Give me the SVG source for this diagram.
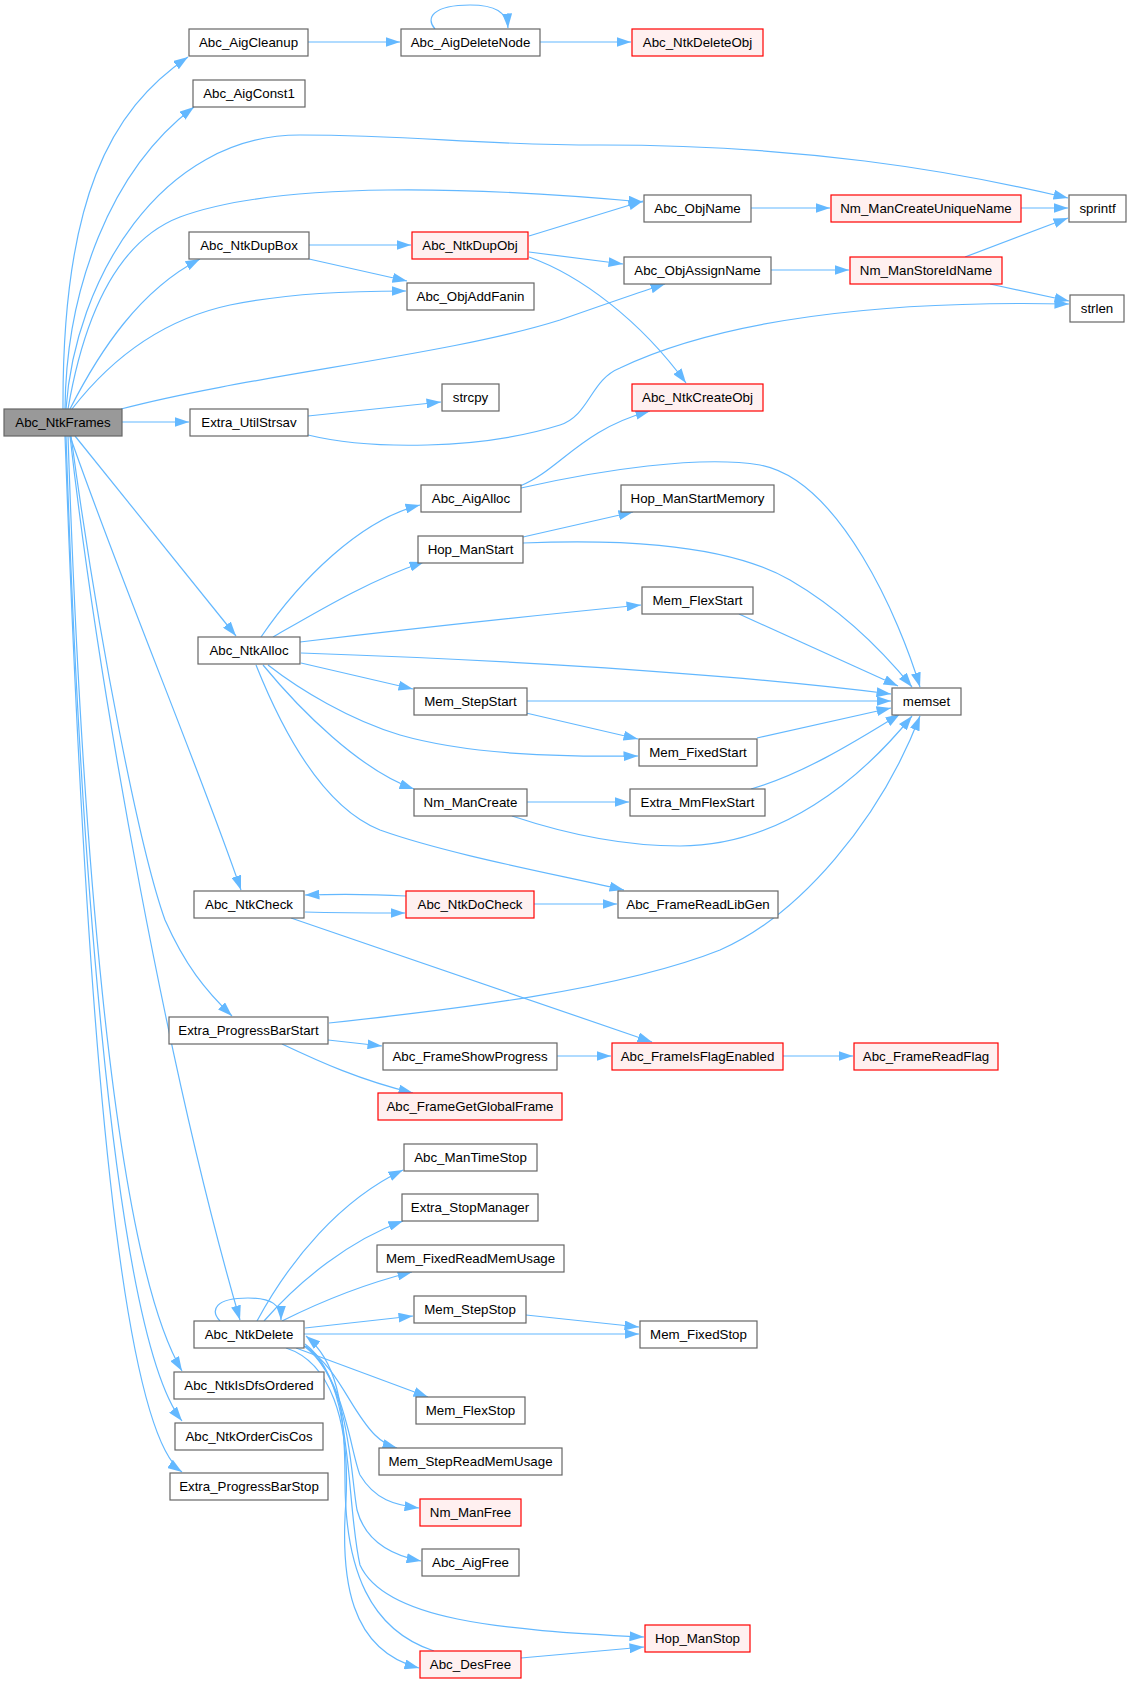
<svg xmlns="http://www.w3.org/2000/svg" width="1132" height="1683" viewBox="0 0 1132 1683">
<style>
text{font-family:"Liberation Sans",Arial,sans-serif;font-size:13.3px;text-anchor:middle;fill:#000}
.n rect{fill:#fff;stroke:#666;stroke-width:1.2}
.r rect{fill:#fff0f0;stroke:#f00;stroke-width:1.2}
.root rect{fill:#999;stroke:#666;stroke-width:1.2}
#edges path{fill:none;stroke:#63b8ff;stroke-width:1.2;marker-end:url(#a)}
</style>
<defs>
<marker id="a" markerUnits="userSpaceOnUse" markerWidth="15" markerHeight="10" refX="14.5" refY="5" orient="auto">
<path d="M0,0 L14.5,5 L0,10 z" fill="#63b8ff"/>
</marker>
</defs>
<rect width="1132" height="1683" fill="#fff"/>
<g id="edges">
<path d="M63,409 C62,200 110,110 188,57"/>
<path d="M65,409 C66,290 110,170 194,107"/>
<path d="M66,409 C75,280 160,135 300,135 C420,135 470,145 600,145 C800,145 950,170 1068,198"/>
<path d="M68,409 C85,310 120,240 180,217 C280,180 480,187 643,202"/>
<path d="M70,409 C100,350 140,290 200,259"/>
<path d="M72,409 C110,360 160,320 230,305 C290,293 350,291 406,291"/>
<path d="M121,409 C250,375 450,355 560,320 C600,306 640,292 665,284"/>
<path d="M122,422 L189,422"/>
<path d="M75,436 L236,636"/>
<path d="M70,436 C120,580 200,770 241,890"/>
<path d="M71,436 C100,650 140,850 165,920 C185,965 205,990 232,1016"/>
<path d="M70,436 C100,700 170,1080 240,1320"/>
<path d="M68,436 C80,800 110,1250 182,1371"/>
<path d="M66,436 C78,800 110,1330 182,1421"/>
<path d="M65,436 C78,800 105,1420 182,1472"/>
<path d="M308,42 L400,42"/>
<path d="M435,29 C425,18 433,5 470,5 C495,5 507,12 508,28"/>
<path d="M540,42 L631,42"/>
<path d="M309,245 L411,245"/>
<path d="M309,259 L407,281"/>
<path d="M529,236 L643,201"/>
<path d="M529,252 L623,264"/>
<path d="M529,257 C580,275 640,320 686,383"/>
<path d="M308,416 L441,402"/>
<path d="M308,435 C370,450 480,450 560,425 C590,415 590,380 620,368 C720,320 880,300 1069,304"/>
<path d="M751,208 L830,208"/>
<path d="M1021,208 L1068,208"/>
<path d="M771,270 L849,270"/>
<path d="M965,257 L1068,218"/>
<path d="M990,284 L1069,301"/>
<path d="M261,637 C300,580 360,520 420,505"/>
<path d="M273,637 C320,610 370,580 424,562"/>
<path d="M300,642 C400,630 550,614 641,605"/>
<path d="M301,653 C450,658 700,670 891,694"/>
<path d="M301,663 L413,689"/>
<path d="M268,665 C300,690 350,720 400,735 C470,755 560,757 638,756"/>
<path d="M263,665 C300,710 360,770 414,789"/>
<path d="M256,665 C290,750 330,810 380,830 C450,855 560,875 624,890"/>
<path d="M520,486 C560,470 580,430 650,411"/>
<path d="M521,488 C600,470 700,455 760,465 C840,480 900,620 920,687"/>
<path d="M523,537 L633,512"/>
<path d="M523,543 C600,540 720,540 790,580 C850,615 890,660 912,687"/>
<path d="M739,614 L898,686"/>
<path d="M527,701 L891,701"/>
<path d="M526,713 L638,739"/>
<path d="M757,738 L891,708"/>
<path d="M527,802 L629,802"/>
<path d="M512,816 C560,832 620,846 680,846 C780,846 860,780 912,716"/>
<path d="M751,789 C800,775 850,745 900,714"/>
<path d="M406,896 C370,894 340,894 305,895"/>
<path d="M305,912 C340,913 370,913 405,913"/>
<path d="M534,904 L617,904"/>
<path d="M291,918 L652,1042"/>
<path d="M329,1023 C450,1010 620,990 720,950 C800,915 880,820 920,716"/>
<path d="M328,1040 L382,1046"/>
<path d="M282,1044 C320,1062 360,1080 413,1093"/>
<path d="M557,1056 L611,1056"/>
<path d="M783,1056 L853,1056"/>
<path d="M220,1321 C210,1310 215,1298 248,1298 C272,1298 281,1305 281,1320"/>
<path d="M257,1321 C290,1260 340,1200 403,1170"/>
<path d="M264,1321 C300,1280 350,1240 403,1221"/>
<path d="M282,1321 C320,1302 360,1285 412,1272"/>
<path d="M305,1328 L413,1316"/>
<path d="M304,1334 L639,1334"/>
<path d="M296,1348 L428,1397"/>
<path d="M305,1346 C340,1370 350,1410 375,1435 C382,1442 390,1446 397,1448"/>
<path d="M306,1346 C345,1380 350,1450 360,1475 C375,1500 395,1505 419,1508"/>
<path d="M304,1346 C350,1380 350,1470 357,1510 C365,1540 390,1555 421,1561"/>
<path d="M305,1344 C355,1380 345,1500 360,1565 C385,1620 500,1630 644,1637"/>
<path d="M286,1348 C330,1362 350,1420 346,1500 C340,1580 350,1650 419,1668"/>
<path d="M434,1651 C370,1630 345,1570 345,1480 C345,1400 335,1360 306,1336"/>
<path d="M521,1658 L644,1647"/>
<path d="M526,1315 L639,1327"/>
</g>
<g id="Abc_NtkFrames" class="root"><rect x="4" y="409" width="118" height="27"/><text x="63" y="427">Abc_NtkFrames</text></g>
<g id="Abc_AigCleanup" class="n"><rect x="189" y="29" width="119" height="27"/><text x="248.5" y="47">Abc_AigCleanup</text></g>
<g id="Abc_AigDeleteNode" class="n"><rect x="401" y="29" width="139" height="27"/><text x="470.5" y="47">Abc_AigDeleteNode</text></g>
<g id="Abc_NtkDeleteObj" class="r"><rect x="632" y="29" width="131" height="27"/><text x="697.5" y="47">Abc_NtkDeleteObj</text></g>
<g id="Abc_AigConst1" class="n"><rect x="193" y="80" width="112" height="27"/><text x="249" y="98">Abc_AigConst1</text></g>
<g id="Abc_NtkDupBox" class="n"><rect x="189" y="232" width="120" height="27"/><text x="249" y="250">Abc_NtkDupBox</text></g>
<g id="Abc_NtkDupObj" class="r"><rect x="412" y="232" width="116" height="27"/><text x="470" y="250">Abc_NtkDupObj</text></g>
<g id="Abc_ObjAddFanin" class="n"><rect x="407" y="283" width="127" height="27"/><text x="470.5" y="301">Abc_ObjAddFanin</text></g>
<g id="strcpy" class="n"><rect x="442" y="384" width="57" height="27"/><text x="470.5" y="402">strcpy</text></g>
<g id="Extra_UtilStrsav" class="n"><rect x="190" y="409" width="118" height="27"/><text x="249" y="427">Extra_UtilStrsav</text></g>
<g id="Abc_ObjName" class="n"><rect x="644" y="195" width="107" height="27"/><text x="697.5" y="213">Abc_ObjName</text></g>
<g id="Nm_ManCreateUniqueName" class="r"><rect x="831" y="195" width="190" height="27"/><text x="926" y="213">Nm_ManCreateUniqueName</text></g>
<g id="sprintf" class="n"><rect x="1069" y="195" width="57" height="27"/><text x="1097.5" y="213">sprintf</text></g>
<g id="Abc_ObjAssignName" class="n"><rect x="624" y="257" width="147" height="27"/><text x="697.5" y="275">Abc_ObjAssignName</text></g>
<g id="Nm_ManStoreIdName" class="r"><rect x="850" y="257" width="152" height="27"/><text x="926" y="275">Nm_ManStoreIdName</text></g>
<g id="strlen" class="n"><rect x="1070" y="295" width="54" height="27"/><text x="1097" y="313">strlen</text></g>
<g id="Abc_NtkCreateObj" class="r"><rect x="632" y="384" width="131" height="27"/><text x="697.5" y="402">Abc_NtkCreateObj</text></g>
<g id="Abc_AigAlloc" class="n"><rect x="421" y="485" width="100" height="27"/><text x="471" y="503">Abc_AigAlloc</text></g>
<g id="Hop_ManStart" class="n"><rect x="418" y="536" width="105" height="27"/><text x="470.5" y="554">Hop_ManStart</text></g>
<g id="Abc_NtkAlloc" class="n"><rect x="198" y="637" width="102" height="27"/><text x="249" y="655">Abc_NtkAlloc</text></g>
<g id="Mem_StepStart" class="n"><rect x="414" y="688" width="113" height="27"/><text x="470.5" y="706">Mem_StepStart</text></g>
<g id="Nm_ManCreate" class="n"><rect x="414" y="789" width="113" height="27"/><text x="470.5" y="807">Nm_ManCreate</text></g>
<g id="Hop_ManStartMemory" class="n"><rect x="621" y="485" width="153" height="27"/><text x="697.5" y="503">Hop_ManStartMemory</text></g>
<g id="Mem_FlexStart" class="n"><rect x="642" y="587" width="111" height="27"/><text x="697.5" y="605">Mem_FlexStart</text></g>
<g id="memset" class="n"><rect x="892" y="688" width="69" height="27"/><text x="926.5" y="706">memset</text></g>
<g id="Mem_FixedStart" class="n"><rect x="639" y="739" width="118" height="27"/><text x="698" y="757">Mem_FixedStart</text></g>
<g id="Extra_MmFlexStart" class="n"><rect x="630" y="789" width="135" height="27"/><text x="697.5" y="807">Extra_MmFlexStart</text></g>
<g id="Abc_NtkCheck" class="n"><rect x="194" y="891" width="110" height="27"/><text x="249" y="909">Abc_NtkCheck</text></g>
<g id="Abc_NtkDoCheck" class="r"><rect x="406" y="891" width="128" height="27"/><text x="470" y="909">Abc_NtkDoCheck</text></g>
<g id="Abc_FrameReadLibGen" class="n"><rect x="618" y="891" width="160" height="27"/><text x="698" y="909">Abc_FrameReadLibGen</text></g>
<g id="Extra_ProgressBarStart" class="n"><rect x="169" y="1017" width="159" height="27"/><text x="248.5" y="1035">Extra_ProgressBarStart</text></g>
<g id="Abc_FrameShowProgress" class="n"><rect x="383" y="1043" width="174" height="27"/><text x="470" y="1061">Abc_FrameShowProgress</text></g>
<g id="Abc_FrameIsFlagEnabled" class="r"><rect x="612" y="1043" width="171" height="27"/><text x="697.5" y="1061">Abc_FrameIsFlagEnabled</text></g>
<g id="Abc_FrameReadFlag" class="r"><rect x="854" y="1043" width="144" height="27"/><text x="926" y="1061">Abc_FrameReadFlag</text></g>
<g id="Abc_FrameGetGlobalFrame" class="r"><rect x="378" y="1093" width="184" height="27"/><text x="470" y="1111">Abc_FrameGetGlobalFrame</text></g>
<g id="Abc_ManTimeStop" class="n"><rect x="404" y="1144" width="133" height="27"/><text x="470.5" y="1162">Abc_ManTimeStop</text></g>
<g id="Extra_StopManager" class="n"><rect x="402" y="1194" width="136" height="27"/><text x="470" y="1212">Extra_StopManager</text></g>
<g id="Mem_FixedReadMemUsage" class="n"><rect x="377" y="1245" width="187" height="27"/><text x="470.5" y="1263">Mem_FixedReadMemUsage</text></g>
<g id="Abc_NtkDelete" class="n"><rect x="194" y="1321" width="110" height="27"/><text x="249" y="1339">Abc_NtkDelete</text></g>
<g id="Mem_StepStop" class="n"><rect x="414" y="1296" width="112" height="27"/><text x="470" y="1314">Mem_StepStop</text></g>
<g id="Mem_FixedStop" class="n"><rect x="640" y="1321" width="117" height="27"/><text x="698.5" y="1339">Mem_FixedStop</text></g>
<g id="Abc_NtkIsDfsOrdered" class="n"><rect x="174" y="1372" width="150" height="27"/><text x="249" y="1390">Abc_NtkIsDfsOrdered</text></g>
<g id="Mem_FlexStop" class="n"><rect x="416" y="1397" width="109" height="27"/><text x="470.5" y="1415">Mem_FlexStop</text></g>
<g id="Abc_NtkOrderCisCos" class="n"><rect x="175" y="1423" width="148" height="27"/><text x="249" y="1441">Abc_NtkOrderCisCos</text></g>
<g id="Mem_StepReadMemUsage" class="n"><rect x="379" y="1448" width="183" height="27"/><text x="470.5" y="1466">Mem_StepReadMemUsage</text></g>
<g id="Extra_ProgressBarStop" class="n"><rect x="170" y="1473" width="158" height="27"/><text x="249" y="1491">Extra_ProgressBarStop</text></g>
<g id="Nm_ManFree" class="r"><rect x="420" y="1499" width="101" height="27"/><text x="470.5" y="1517">Nm_ManFree</text></g>
<g id="Abc_AigFree" class="n"><rect x="422" y="1549" width="97" height="27"/><text x="470.5" y="1567">Abc_AigFree</text></g>
<g id="Hop_ManStop" class="r"><rect x="645" y="1625" width="105" height="27"/><text x="697.5" y="1643">Hop_ManStop</text></g>
<g id="Abc_DesFree" class="r"><rect x="420" y="1651" width="101" height="27"/><text x="470.5" y="1669">Abc_DesFree</text></g>
</svg>
